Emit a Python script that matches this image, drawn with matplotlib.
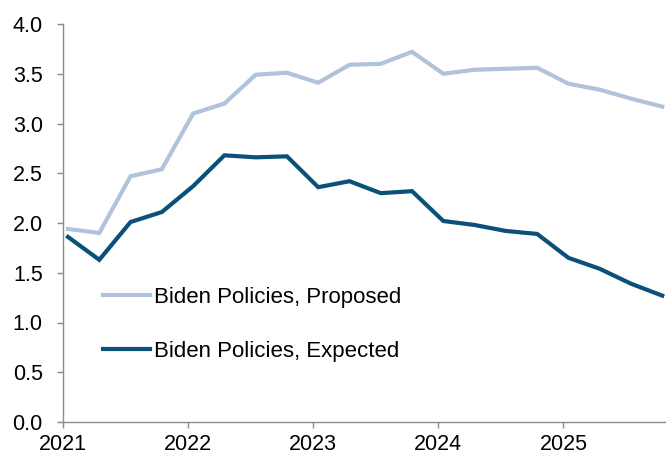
import matplotlib
matplotlib.use("Agg")
import matplotlib.pyplot as plt
import numpy as np

plt.rcParams['font.family'] = ['Liberation Sans', 'DejaVu Sans']

# Quarterly series, 2021 Q1 through 2025 Q4
quarters = 2021.04 + 0.25 * np.arange(20)
proposed = [1.94, 1.90, 2.47, 2.54, 3.10, 3.20, 3.49, 3.51, 3.41, 3.59,
            3.60, 3.72, 3.50, 3.54, 3.55, 3.56, 3.40, 3.34, 3.25, 3.17]
expected = [1.86, 1.63, 2.01, 2.11, 2.37, 2.68, 2.66, 2.67, 2.36, 2.42,
            2.30, 2.32, 2.02, 1.98, 1.92, 1.89, 1.65, 1.54, 1.39, 1.27]
labels = ["Biden Policies, Proposed", "Biden Policies, Expected"]
year_ticks = [2021, 2022, 2023, 2024, 2025]
y_ticks = np.arange(0, 4.01, 0.5)

fig = plt.figure(figsize=(6.66, 4.59), dpi=100)
ax = fig.add_axes([63 / 666, 37 / 459, 603 / 666, 398 / 459])

ax.plot(quarters, proposed, color="#B1C3DA", lw=3.0, label=labels[0],
        solid_joinstyle="miter")
ax.plot(quarters, expected, color="#0B5078", lw=3.0, label=labels[1],
        solid_joinstyle="miter")

ax.set_xlim(2021, 2025.82)
ax.set_ylim(0, 4.0)
ax.set_xticks(year_ticks)
ax.set_xticklabels([str(y) for y in year_ticks])
ax.set_yticks(y_ticks)
ax.set_yticklabels([f"{v:.1f}" for v in y_ticks])

for side in ("top", "right"):
    ax.spines[side].set_visible(False)
for side in ("left", "bottom"):
    ax.spines[side].set_color("#8C8C8C")
    ax.spines[side].set_linewidth(1.0)
ax.tick_params(axis="both", colors="#8C8C8C", labelcolor="black",
               labelsize=15.5, length=4.5, width=1.0, direction="out")
ax.tick_params(axis="y", pad=10)
ax.tick_params(axis="x", pad=4)

ax.legend(loc="center left", bbox_to_anchor=(103 / 666, (459 - 324.5) / 459),
          bbox_transform=fig.transFigure, frameon=False, fontsize=16,
          handlelength=2.1, handletextpad=0.18, labelspacing=1.49,
          borderaxespad=0, borderpad=0)

fig.savefig("out.png", dpi=100)
